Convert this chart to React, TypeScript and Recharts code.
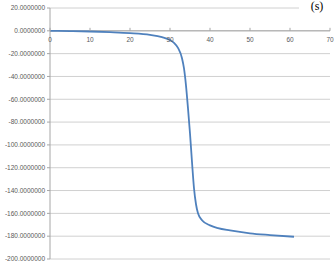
import { CartesianGrid, Line, LineChart, ReferenceDot, ReferenceLine, XAxis, YAxis } from 'recharts';

const xValues = [0, 5, 10, 15, 20, 25, 28, 30, 31, 32, 33, 33.5, 34, 34.5, 35, 35.5, 36, 36.5, 37, 38, 40, 42, 45, 50, 55, 61];
const yValues = [0, -0.2, -0.6, -1.2, -2, -3.5, -5.5, -8, -10.5, -15, -24, -33, -48, -68, -90, -115, -138, -152, -160, -166, -170.5, -173, -175, -177.5, -179, -180.5];
const xTicks = [0, 10, 20, 30, 40, 50, 60, 70];
const yTicks = [20, 0, -20, -40, -60, -80, -100, -120, -140, -160, -180, -200];

const data = xValues.map((x, i) => ({ x, y: yValues[i] }));

const font = 'Liberation Sans, Arial, sans-serif';

// x axis crosses at y = 0, so its ticks are drawn as dots on that line
const makeTick = (label: number) => (props: any) => {
  const { cx, cy } = props;
  return (
    <g>
      <line x1={cx} x2={cx} y1={cy - 3} y2={cy} stroke="#a6a6a6" strokeWidth={1} />
      <text x={cx} y={cy + 11} textAnchor="middle" fontSize={6.5} fill="#595959" fontFamily={font}>
        {String(label)}
      </text>
    </g>
  );
};

export default function App() {
  return (
    <div style={{ position: 'absolute', left: 0, top: 0, width: 335, height: 266, background: '#fff' }}>
      <LineChart width={335} height={266} data={data} margin={{ top: 8, right: 5, bottom: 6, left: 0 }}>
        <CartesianGrid vertical={false} stroke="#d0d0d0" />
        <YAxis
          type="number"
          domain={[-200, 20]}
          ticks={yTicks}
          width={50}
          interval={0}
          tickFormatter={(v: number) => v.toFixed(7)}
          tick={{ fontSize: 6.5, fill: '#595959', fontFamily: font }}
          tickSize={3}
          tickLine={{ stroke: '#a6a6a6' }}
          axisLine={{ stroke: '#a6a6a6' }}
        />
        <XAxis
          dataKey="x"
          type="number"
          domain={[0, 70]}
          ticks={xTicks}
          height={1}
          axisLine={false}
          tickLine={false}
          tick={false}
        />
        <ReferenceLine y={0} stroke="#a6a6a6" />
        {xTicks.map((t) => (
          <ReferenceDot key={t} x={t} y={0} r={0} ifOverflow="visible" shape={makeTick(t)} />
        ))}
        <Line
          type="monotone"
          dataKey="y"
          stroke="#4f81bd"
          strokeWidth={1.8}
          dot={false}
          isAnimationActive={false}
        />
      </LineChart>
      <div
        style={{
          position: 'absolute',
          left: 299,
          top: -1,
          width: 36,
          height: 14,
          background: '#fff',
          fontFamily: 'Liberation Serif, serif',
          fontSize: 12,
          textAlign: 'center',
          lineHeight: '14px',
          color: '#000',
        }}
      >
        (s)
      </div>
    </div>
  );
}
